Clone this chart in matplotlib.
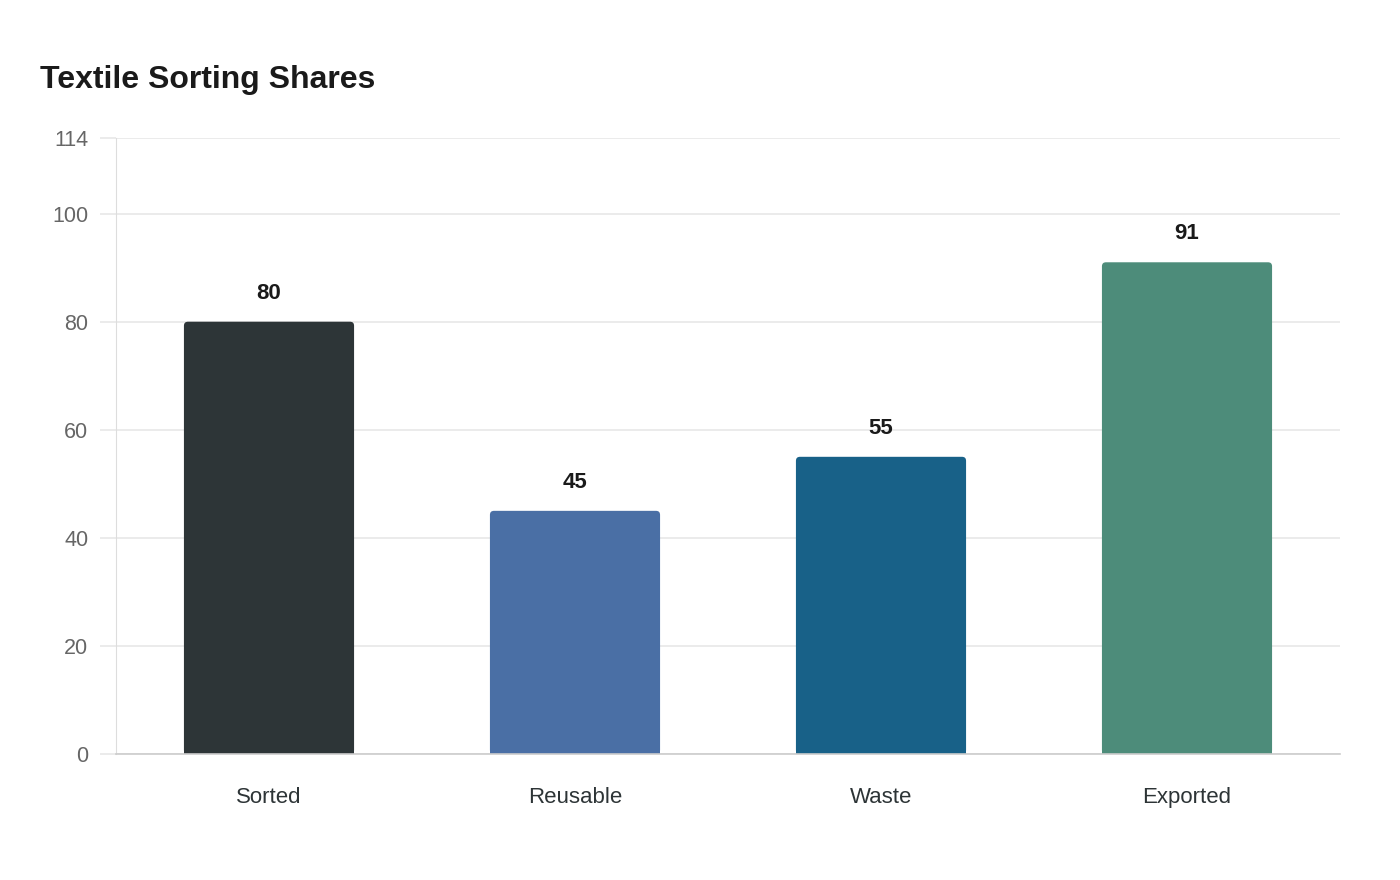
import matplotlib.pyplot as plt
from matplotlib.patches import FancyBboxPatch, Rectangle

plt.rcParams['font.family'] = ['Liberation Sans', 'DejaVu Sans']

categories = ['Sorted', 'Reusable', 'Waste', 'Exported']
values = [80, 45, 55, 91]
colors = ['#2d3537', '#4a6fa5', '#186188', '#4d8c7a']
yticks = [0, 20, 40, 60, 80, 100, 114]

fig = plt.figure(figsize=(14, 8.8), dpi=100)
ax = fig.add_axes([116/1400, 1 - 754/880, 1224/1400, 616/880])

ax.set_xlim(-0.5, len(categories) - 0.5)
ax.set_ylim(0, 114)

width = 0.556
# corner radius ~4 px converted to data units
rx = 4 / 306
ry = 4 * 114 / 616
for i, (v, c) in enumerate(zip(values, colors)):
    x0 = i - width / 2
    top = FancyBboxPatch((x0, 0), width, v,
                         boxstyle='round,pad=0,rounding_size=%f' % rx,
                         mutation_aspect=ry / rx, fc=c, ec='none', zorder=3)
    ax.add_patch(top)
    ax.add_patch(Rectangle((x0, 0), width, v - ry * 1.5, fc=c, ec='none', zorder=3))
    ax.annotate(str(v), (i, v), xytext=(0, 20.5), textcoords='offset points',
                ha='center', va='center', fontsize=16, fontweight='bold',
                color='#1a1a1a')

ax.set_xticks(range(len(categories)))
ax.set_xticklabels(categories, fontsize=16, color='#2d3436')
ax.tick_params(axis='x', length=0, pad=23.5)

ax.set_yticks(yticks)
ax.set_yticklabels([str(t) for t in yticks], fontsize=15.5, color='#666666')
ax.tick_params(axis='y', length=11.5, width=1.2, color='#e8e8e8', pad=8.5)

ax.grid(axis='y', color='#e8e8e8', linewidth=1.2, zorder=0)
ax.set_axisbelow(True)

for s in ['top', 'right']:
    ax.spines[s].set_visible(False)
ax.spines['left'].set_color('#dddddd')
ax.spines['left'].set_linewidth(0.8)
ax.spines['bottom'].set_color('#cccccc')
ax.spines['bottom'].set_linewidth(1.2)
ax.spines['bottom'].set_zorder(4)

fig.text(40/1400, 1 - 80/880, 'Textile Sorting Shares', fontsize=23,
         fontweight='bold', color='#1a1a1a', ha='left', va='center')

fig.savefig('out.png', dpi=100, facecolor='white')
